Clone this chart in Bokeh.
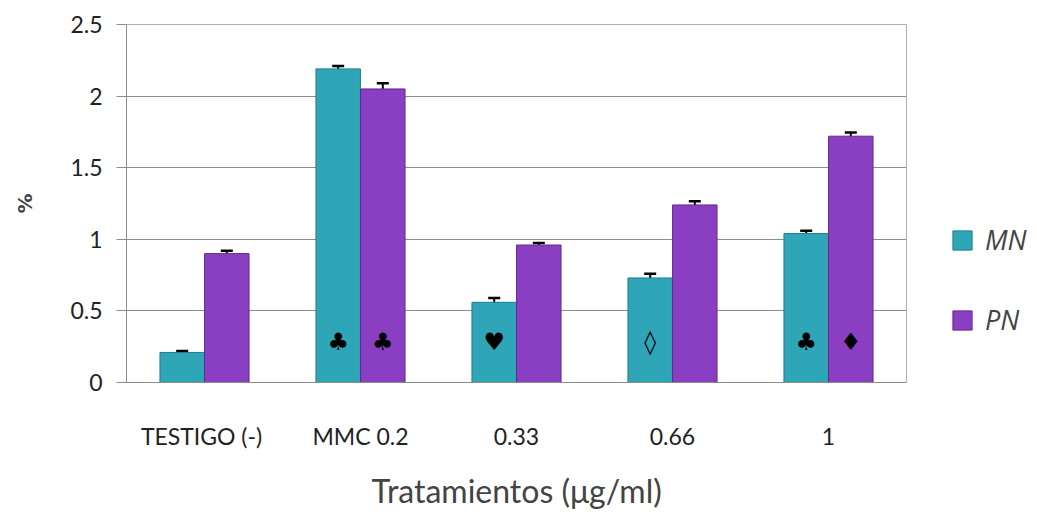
from bokeh.plotting import figure
from bokeh.models import (ColumnDataSource, FactorRange, Range1d, Whisker, TeeHead,
                          Legend, LegendItem, FixedTicker, NumeralTickFormatter)
from bokeh.transform import dodge
from bokeh.embed import file_html
from bokeh.resources import INLINE
from bokeh.core.properties import value

# ---- data ----
categories = ["TESTIGO  (-)", "MMC 0.2", "0.33", "0.66", "1"]
mn_values = [0.21, 2.19, 0.56, 0.73, 1.04]
pn_values = [0.90, 2.05, 0.96, 1.24, 1.72]
mn_err = [0.01, 0.02, 0.03, 0.03, 0.02]
pn_err = [0.02, 0.04, 0.015, 0.025, 0.025]
mn_symbols = ["", "\u2663", "\u2665", "\u25CA", "\u2663"]
pn_symbols = ["", "\u2663", "", "", "\u2666"]
y_ticks = [0, 0.5, 1, 1.5, 2, 2.5]
series_names = ["MN", "PN"]

src = ColumnDataSource(dict(
    cat=categories, mn=mn_values, pn=pn_values,
    mn_lo=[v - e for v, e in zip(mn_values, mn_err)],
    mn_hi=[v + e for v, e in zip(mn_values, mn_err)],
    pn_lo=[v - e for v, e in zip(pn_values, pn_err)],
    pn_hi=[v + e for v, e in zip(pn_values, pn_err)],
    mn_sym=mn_symbols, pn_sym=pn_symbols,
))

MN_COLOR = "#2fa6b7"
MN_EDGE = "#1f7d8b"
PN_COLOR = "#8a3fc3"
PN_EDGE = "#65288f"

p = figure(x_range=FactorRange(*categories), y_range=Range1d(0, 2.5),
           frame_width=780, frame_height=358, output_backend="svg", toolbar_location=None,
           min_border_left=126, min_border_right=10, min_border_top=24,
           min_border_bottom=125)
p.x_range.range_padding = 0

off = 0.143
bw = 0.285
r_mn = p.vbar(x=dodge("cat", -off, range=p.x_range), top="mn", width=bw, source=src,
              fill_color=MN_COLOR, line_color=MN_EDGE, line_width=1)
r_pn = p.vbar(x=dodge("cat", off, range=p.x_range), top="pn", width=bw, source=src,
              fill_color=PN_COLOR, line_color=PN_EDGE, line_width=1)

for o, lo, hi in [(-off, "mn_lo", "mn_hi"), (off, "pn_lo", "pn_hi")]:
    w = Whisker(base=dodge("cat", o, range=p.x_range), lower=lo, upper=hi, source=src,
                line_color="black", line_width=2,
                upper_head=TeeHead(size=12, line_width=2.5, line_color="black"),
                lower_head=TeeHead(size=12, line_width=2.5, line_color="black"))
    p.add_layout(w)

for o, col in [(-off, "mn_sym"), (off, "pn_sym")]:
    p.text(x=dodge("cat", o, range=p.x_range), y=0.28, text=col, source=src,
           text_align="center", text_baseline="middle", text_font_size="24px",
           text_color="black", text_font=value("DejaVu Sans"))

# axes
p.yaxis.ticker = FixedTicker(ticks=y_ticks)
p.yaxis.formatter = NumeralTickFormatter(format="0.[0]")
p.yaxis.major_label_text_font = "Lato"
p.yaxis.major_label_text_font_size = "23px"
p.yaxis.major_label_text_color = "#222222"
p.yaxis.major_tick_out = 10
p.yaxis.major_tick_in = 0
p.yaxis.minor_tick_line_color = None
p.yaxis.major_label_standoff = 14
p.yaxis.axis_line_color = "#8c8c8c"
p.yaxis.major_tick_line_color = "#8c8c8c"
p.yaxis.axis_label = "%"
p.yaxis.axis_label_text_font = "DejaVu Sans"
p.yaxis.axis_label_text_font_style = "bold"
p.yaxis.axis_label_text_font_size = "20px"
p.yaxis.axis_label_standoff = 30

p.xaxis.major_tick_line_color = None
p.xaxis.major_label_text_font = "Lato"
p.xaxis.major_label_text_font_size = "23px"
p.xaxis.major_label_text_color = "#222222"
p.xaxis.major_label_standoff = 33
p.xaxis.axis_line_color = "#8c8c8c"
p.xaxis.axis_label = "Tratamientos (\u03bcg/ml)"
p.xaxis.axis_label_text_font = "Lato"
p.xaxis.axis_label_text_font_style = "normal"
p.xaxis.axis_label_text_font_size = "32px"
p.xaxis.axis_label_standoff = 18

p.xgrid.grid_line_color = None
p.ygrid.grid_line_color = "#8c8c8c"
p.ygrid.grid_line_width = 1
p.outline_line_color = "#b0b0b0"

legend = Legend(items=[LegendItem(label=series_names[0], renderers=[r_mn]),
                       LegendItem(label=series_names[1], renderers=[r_pn])],
                location=(44, 44), orientation="vertical",
                glyph_width=24, glyph_height=24, label_height=24, spacing=43,
                padding=0, margin=0,
                label_standoff=11, label_text_font="Open Sans",
                label_text_font_style="italic", label_text_font_size="27px",
                border_line_color=None, background_fill_alpha=0)
p.add_layout(legend, "right")

open("out.html", "w").write(file_html(p, INLINE))
